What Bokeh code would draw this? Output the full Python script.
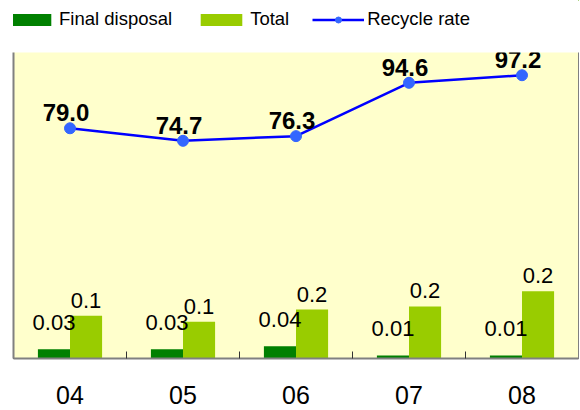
from bokeh.plotting import figure
from bokeh.layouts import column
from bokeh.models import (ColumnDataSource, Range1d, LinearAxis, FixedTicker,
                          Legend, LegendItem, LabelSet)
from bokeh.transform import dodge
from bokeh.core.properties import value
from bokeh.embed import file_html
from bokeh.resources import INLINE

# ---- data ----
years = ["04", "05", "06", "07", "08"]
final_disposal = [0.03, 0.03, 0.04, 0.01, 0.01]
total = [0.14, 0.12, 0.16, 0.17, 0.22]
recycle_rate = [79.0, 74.7, 76.3, 94.6, 97.2]

FONT = "Liberation Sans"
DARK = "#008000"
LIGHT = "#99CC00"
LINE = "#0000FF"
DOT = "#3366FF"

x = list(range(len(years)))
src = ColumnDataSource(dict(
    x=x,
    final=final_disposal,
    total=total,
    rate=recycle_rate,
    final_lbl=[f"{v:.2f}" for v in final_disposal],
    total_lbl=[f"{v:.1f}" for v in total],
    rate_lbl=[f"{v:.1f}" for v in recycle_rate],
))

# ---------------- main chart ----------------
p = figure(width=580, height=370, output_backend="svg", toolbar_location=None,
           x_range=Range1d(-0.5, len(years) - 0.5), y_range=Range1d(0, 1.0),
           min_border_left=13, min_border_right=2, min_border_top=12,
           min_border_bottom=52)
p.extra_y_ranges = {"rate": Range1d(0, 105)}
p.background_fill_color = "#FFFFCC"
p.border_fill_color = "white"
p.outline_line_color = None
p.grid.visible = False


def line_only(ax, tick, width, color="#808080"):
    ax.ticker = FixedTicker(ticks=[tick])
    ax.major_label_overrides = {tick: ""}
    ax.major_label_standoff = 0
    ax.major_tick_out = 0
    ax.major_tick_in = 0
    ax.minor_tick_out = 0
    ax.minor_tick_in = 0
    ax.axis_line_color = color
    ax.axis_line_width = width


line_only(p.yaxis[0], 0.5, 2)
ra = LinearAxis(y_range_name="rate")
line_only(ra, 50, 1)
p.add_layout(ra, "right")

xa = p.xaxis[0]
xa.ticker = FixedTicker(ticks=x, minor_ticks=[i - 0.5 for i in range(len(years) + 1)])
xa.major_label_overrides = {i: yr for i, yr in enumerate(years)}
xa.major_tick_out = 0
xa.major_tick_in = 0
xa.minor_tick_out = 0
xa.minor_tick_in = 7
xa.minor_tick_line_color = "#333333"
xa.axis_line_color = "#808080"
xa.axis_line_width = 2
xa.major_label_text_font = FONT
xa.major_label_text_font_size = "25px"
xa.major_label_text_color = "black"
xa.major_label_standoff = 27

bw = 0.284
p.vbar(x=dodge("x", -bw / 2), top="final", width=bw, bottom=0, source=src,
       fill_color=DARK, line_color=None)
p.vbar(x=dodge("x", bw / 2), top="total", width=bw, bottom=0, source=src,
       fill_color=LIGHT, line_color=None)
p.line("x", "rate", source=src, y_range_name="rate", line_color=LINE, line_width=2.5)
p.scatter("x", "rate", source=src, y_range_name="rate", size=11,
          fill_color=DOT, line_color=DOT)

p.text(x=dodge("x", -bw / 2), y="final", text="final_lbl", source=src,
       text_align="center", text_baseline="bottom", y_offset=-19,
       text_font=value(FONT), text_font_size="22px", text_color="black")
p.text(x=dodge("x", bw / 2), y="total", text="total_lbl", source=src,
       text_align="center", text_baseline="bottom", y_offset=-8,
       text_font=value(FONT), text_font_size="22px", text_color="black")
rate_labels = LabelSet(x="x", y="rate", text="rate_lbl", source=src,
                       y_range_name="rate", text_align="center",
                       text_baseline="bottom", x_offset=-4, y_offset=7,
                       text_font=value(FONT), text_font_size="24px",
                       text_font_style="bold", text_color="black")
p.add_layout(rate_labels)

# ---------------- legend strip above the chart ----------------
lf = figure(width=580, height=40, output_backend="svg", toolbar_location=None,
            x_range=Range1d(-10, -9), y_range=Range1d(-10, -9),
            x_axis_location=None, y_axis_location=None,
            min_border=0)
lf.outline_line_color = None
lf.grid.visible = False
lf.background_fill_color = "white"
lf.border_fill_color = "white"
# same data, drawn outside this strip's ranges: only their legend glyphs show
g1 = lf.vbar(x="x", top="final", width=bw, source=src, fill_color=DARK, line_color=None)
g2 = lf.vbar(x="x", top="total", width=bw, source=src, fill_color=LIGHT, line_color=None)
g3 = lf.line("x", "rate", source=src, line_color=LINE, line_width=2.5)
g4 = lf.scatter("x", "rate", source=src, size=11, fill_color=DOT, line_color=DOT)

legend = Legend(items=[
    LegendItem(label="Final disposal", renderers=[g1]),
    LegendItem(label="Total", renderers=[g2]),
    LegendItem(label="Recycle rate", renderers=[g3, g4]),
], orientation="horizontal", location=(-9, 10),
    label_text_font=FONT, label_text_font_size="18.5px", label_text_color="black",
    glyph_width=52, glyph_height=15, label_standoff=3, spacing=23,
    padding=0, margin=0, border_line_color=None, background_fill_alpha=0)
lf.add_layout(legend)

layout = column(lf, p, spacing=0)
open("out.html", "w").write(file_html(layout, INLINE))
